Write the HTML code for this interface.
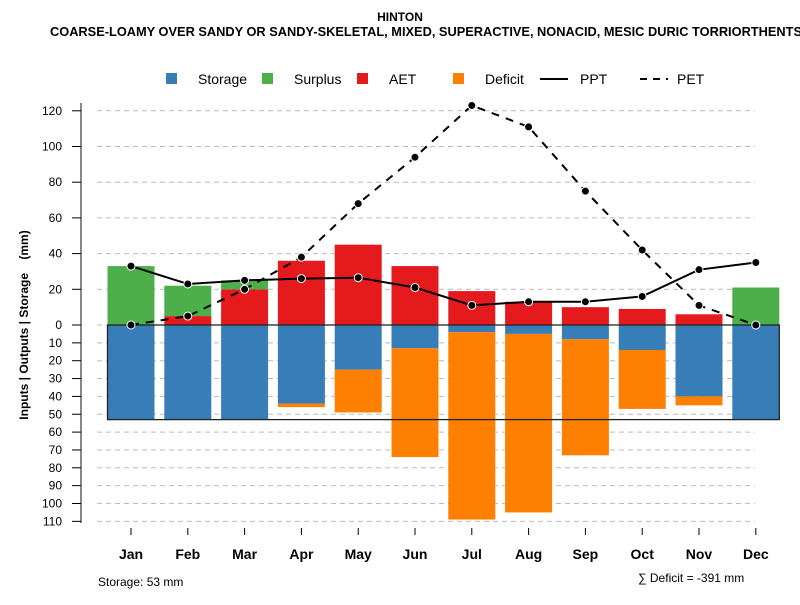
<!DOCTYPE html>
<html><head><meta charset="utf-8"><style>body{margin:0;background:#fff}svg{font-family:"Liberation Sans",sans-serif}</style></head>
<body>
<svg id="chart" width="800" height="600" xmlns="http://www.w3.org/2000/svg">
<text x="400" y="21" text-anchor="middle" font-size="12" font-weight="bold">HINTON</text>
<text x="50" y="36" font-size="12.8" font-weight="bold">COARSE-LOAMY OVER SANDY OR SANDY-SKELETAL, MIXED, SUPERACTIVE, NONACID, MESIC DURIC TORRIORTHENTS</text>
<g id="grid"></g><g id="bars"></g><g id="lines"></g><g id="axes"></g>
<g font-size="14">
<rect x="166" y="73" width="11" height="11" fill="#377eb8"/><text x="198" y="84">Storage</text>
<rect x="262" y="73" width="11" height="11" fill="#4daf4a"/><text x="294" y="84">Surplus</text>
<rect x="357" y="73" width="11" height="11" fill="#e41a1c"/><text x="389" y="84">AET</text>
<rect x="453" y="73" width="11" height="11" fill="#ff7f00"/><text x="485" y="84">Deficit</text>
<line x1="540" y1="79" x2="568" y2="79" stroke="#000" stroke-width="2"/><text x="580" y="84">PPT</text>
<line x1="640" y1="79" x2="668" y2="79" stroke="#000" stroke-width="2" stroke-dasharray="7,6"/><text x="677" y="84">PET</text>
</g>
<text transform="translate(28,325) rotate(-90)" text-anchor="middle" font-size="12" font-weight="bold" style="white-space:pre">Inputs | Outputs | Storage    (mm)</text>
<text x="98" y="586" font-size="12">Storage: 53 mm</text>
<text x="638" y="582" font-size="12">∑ Deficit = -391 mm</text>
</svg>
<script>
const months=["Jan","Feb","Mar","Apr","May","Jun","Jul","Aug","Sep","Oct","Nov","Dec"];
const aet=[0,5,20,36,45,33,19,13,10,9,6,0];
const surplus=[33,17,5,0,0,0,0,0,0,0,0,21];
const storage=[53,53,53,44,25,13,4,5,8,14,40,53];
const deficit=[0,0,0,2,24,61,105,100,65,33,5,0];
const ppt=[33,23,25,26,26.5,21,11,13,13,16,31,35];
const pet=[0,5,20,38,68,94,123,111,75,42,11,0];
const upTicks=[0,20,40,60,80,100,120];
const downTicks=[10,20,30,40,50,60,70,80,90,100,110];
const maxStorage=53;
const NS="http://www.w3.org/2000/svg";
const y0=325,k=1.785;
const yUp=v=>y0-v*k, yDn=v=>y0+v*k;
const xC=i=>131+i*56.8, bw=47;
function mk(p,t,a){const e=document.createElementNS(NS,t);for(const q in a)e.setAttribute(q,a[q]);p.appendChild(e);return e;}
const grid=document.getElementById('grid'),bars=document.getElementById('bars'),lines=document.getElementById('lines'),axes=document.getElementById('axes');
mk(axes,'line',{x1:81,y1:103,x2:81,y2:523,stroke:'#888','stroke-width':2});
function tick(y,lab){
 const g=mk(grid,'line',{x1:97,y1:y,x2:755,y2:y,stroke:'#bbb','stroke-dasharray':'5,4'});
 
 mk(axes,'line',{x1:72,y1:y,x2:81,y2:y,stroke:'#000'});
 const t=mk(axes,'text',{x:62,y:y+4,'text-anchor':'end','font-size':12});t.textContent=lab;
 
}
upTicks.forEach(v=>tick(yUp(v),v));
downTicks.forEach(v=>tick(yDn(v),v));
months.forEach((m,i)=>{
 const x=xC(i)-bw/2;
 function bar(yt,yb,c,n){if(yb-yt<=0)return;const r=mk(bars,'rect',{x:x,y:yt,width:bw,height:yb-yt,fill:c});
  }
 bar(yUp(aet[i]),y0,'#e41a1c','aet');
 bar(yUp(aet[i]+surplus[i]),yUp(aet[i]),'#4daf4a','surplus');
 bar(y0,yDn(storage[i]),'#377eb8','storage');
 bar(yDn(storage[i]),yDn(storage[i]+deficit[i]),'#ff7f00','deficit');
 mk(axes,'line',{x1:xC(i),y1:528,x2:xC(i),y2:535,stroke:'#000'});
 const t=mk(axes,'text',{x:xC(i),y:559,'text-anchor':'middle','font-size':14,'font-weight':'bold'});t.textContent=m;
 
});
const box=mk(bars,'rect',{x:xC(0)-bw/2,y:y0,width:xC(11)-xC(0)+bw,height:maxStorage*k,fill:'none',stroke:'#222','stroke-width':1.3});

function series(arr,dash,n){
 const p=mk(lines,'polyline',{points:arr.map((v,i)=>xC(i)+','+yUp(v)).join(' '),fill:'none',stroke:'#000','stroke-width':2});
 if(dash)p.setAttribute('stroke-dasharray','8,7');
 
 arr.forEach((v,i)=>{const c=mk(lines,'circle',{cx:xC(i),cy:yUp(v),r:4,fill:'#000',stroke:'#fff','stroke-width':1});
  });
}
series(ppt,false,'ppt');series(pet,true,'pet');
</script>
</body></html>
